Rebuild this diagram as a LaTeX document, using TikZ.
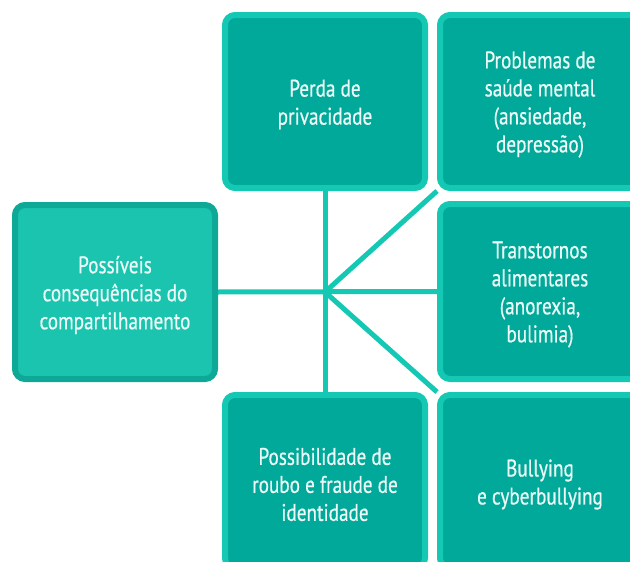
\documentclass[tikz,border=0pt]{standalone}
\usepackage{fontspec}
\setmainfont{PT Sans}[FakeStretch=0.8,FakeBold=0.6]
\usetikzlibrary{backgrounds}
\definecolor{lightteal}{HTML}{14C8B3}
\definecolor{darkteal}{HTML}{00A99A}
\definecolor{midteal}{HTML}{1BC4AF}
\definecolor{rimteal}{HTML}{0EA897}
\definecolor{txt}{HTML}{ECFAF7}
\tikzset{
  box/.style={draw=lightteal, fill=darkteal, line width=6pt, rounded corners=10pt,
    minimum width=200pt, minimum height=173pt, inner sep=0pt},
  mainbox/.style={box, draw=rimteal, fill=midteal, minimum height=174pt},
  lbl/.style={align=center, text=txt, font=\fontsize{24}{28}\selectfont, inner sep=0pt, yshift=-3pt},
  link/.style={draw=lightteal, line width=5pt}
}
\begin{document}
\begin{tikzpicture}[x=1pt,y=-1pt]
\useasboundingbox (0,0) rectangle (630,562);
\clip (0,0) rectangle (630,562);
\node[mainbox] (main) at (115,292) {};
\node[box] (priv) at (325,101.5) {};
\node[box] (saude) at (540,101.5) {};
\node[box, minimum height=175pt] (alim) at (540,291.5) {};
\node[box] (roubo) at (325,481.5) {};
\node[box] (bully) at (540,481.5) {};
\node[lbl] (mainT) at (main) {Possíveis\\consequências do\\compartilhamento};
\node[lbl] (privT) at (priv) {Perda de\\privacidade};
\node[lbl] (saudeT) at (saude) {Problemas de\\saúde mental\\(ansiedade,\\depressão)};
\node[lbl] (alimT) at (alim) {Transtornos\\alimentares\\(anorexia,\\bulimia)};
\node[lbl] (rouboT) at (roubo) {Possibilidade de\\roubo e fraude de\\identidade};
\node[lbl] (bullyT) at (bully) {Bullying\\e cyberbullying};
\coordinate (hub) at (325,292);
\begin{scope}[on background layer]
  \draw[link] (priv.south) -- (roubo.north);
  \draw[link] (main.east) -- (alim.west);
  \draw[link] (hub) -- (saude.south west);
  \draw[link] (hub) -- (bully.north west);
\end{scope}
\end{tikzpicture}
\end{document}
